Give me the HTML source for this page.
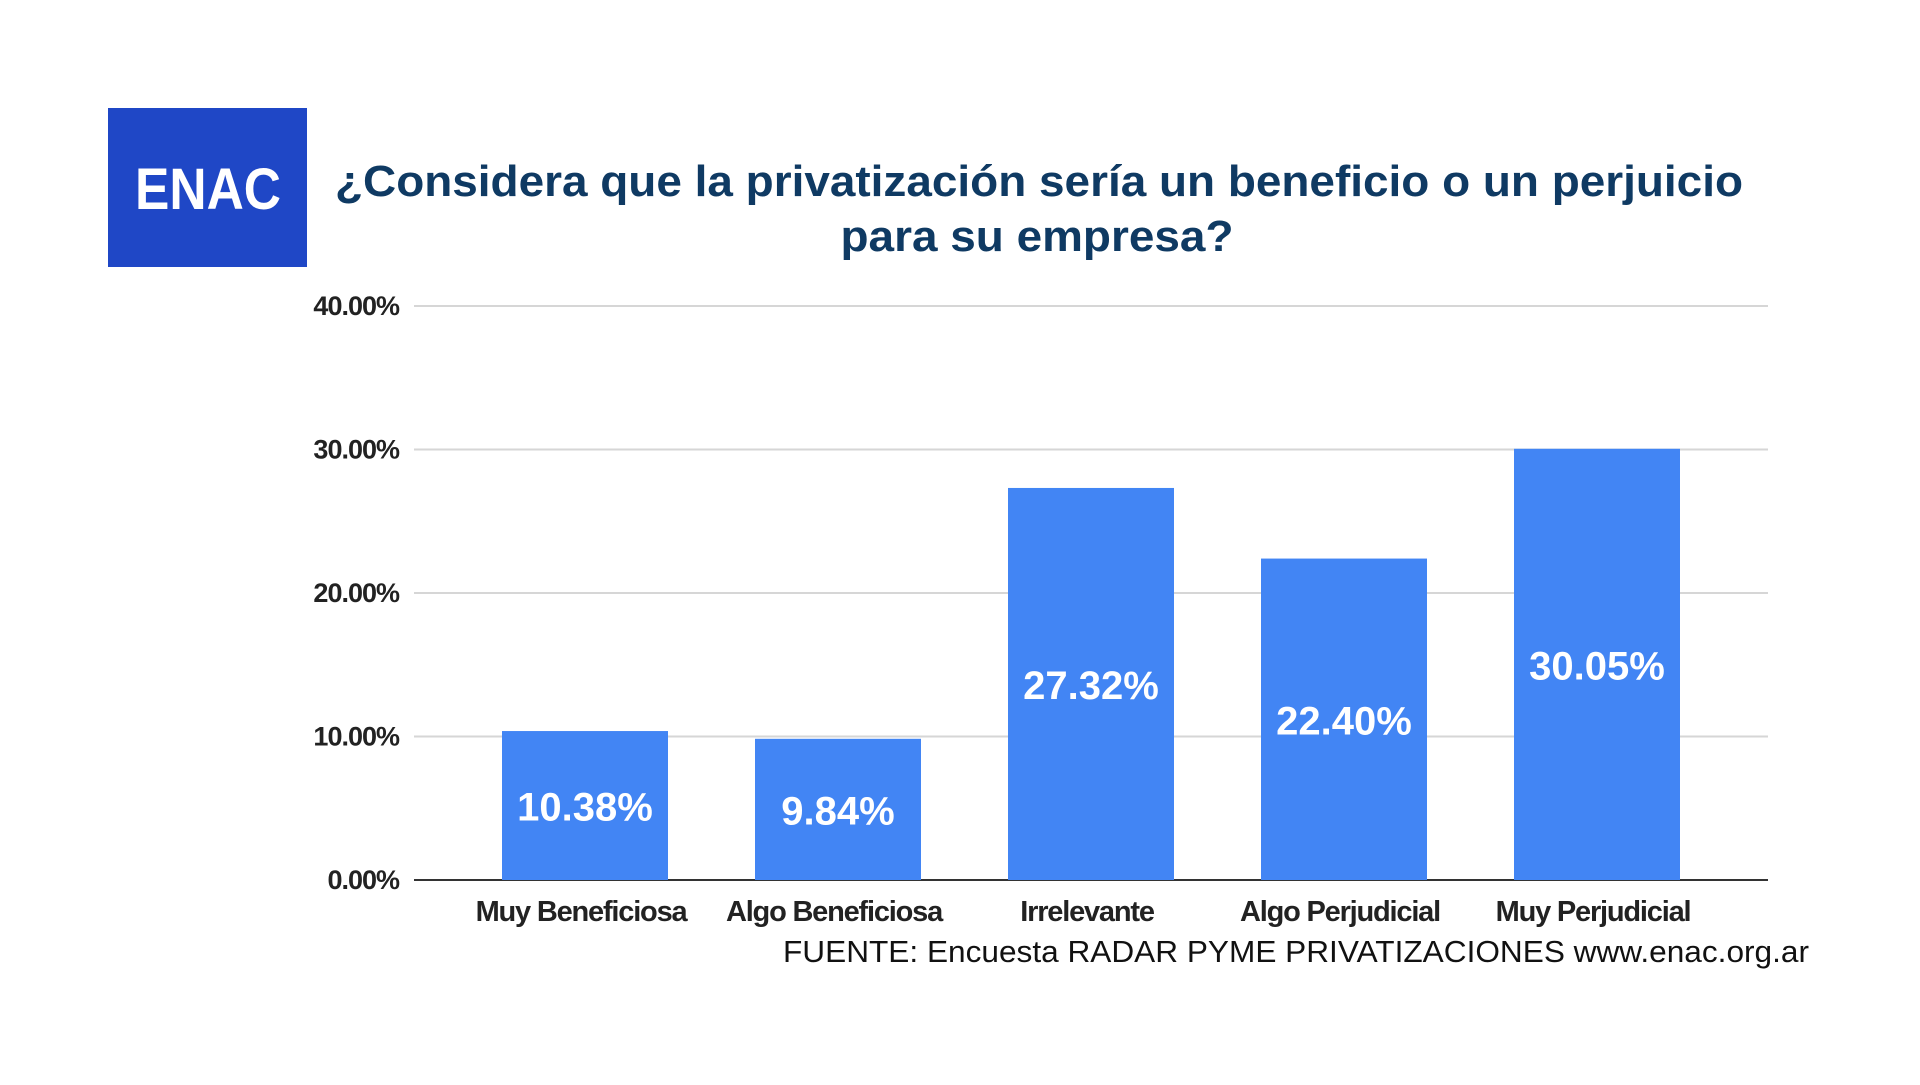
<!DOCTYPE html>
<html><head><meta charset="utf-8"><style>
body{margin:0;width:1920px;height:1080px;background:#fff;overflow:hidden;font-family:"Liberation Sans",sans-serif}
</style></head><body>
<svg width="1920" height="1080">
<rect x="108" y="108" width="199" height="159" fill="#1f47c6"/>
<text x="208" y="209" text-anchor="middle" font-size="58" font-weight="bold" fill="#fff" textLength="146" lengthAdjust="spacingAndGlyphs">ENAC</text>
<text x="1039" y="196" text-anchor="middle" font-size="44" font-weight="bold" fill="#0f3a63" textLength="1408" lengthAdjust="spacingAndGlyphs">¿Considera que la privatización sería un beneficio o un perjuicio</text>
<text x="1037" y="251" text-anchor="middle" font-size="44" font-weight="bold" fill="#0f3a63" textLength="393" lengthAdjust="spacingAndGlyphs">para su empresa?</text>
<g id="grid"></g><g id="bars"></g>
<text x="1809" y="962" text-anchor="end" font-size="31" fill="#111" textLength="1026" lengthAdjust="spacingAndGlyphs">FUENTE: Encuesta RADAR PYME PRIVATIZACIONES www.enac.org.ar</text>
</svg>
<script>
const categories=["Muy Beneficiosa","Algo Beneficiosa","Irrelevante","Algo Perjudicial","Muy Perjudicial"];
const values=[10.38,9.84,27.32,22.40,30.05];
const valueLabels=["10.38%","9.84%","27.32%","22.40%","30.05%"];
const ticks=[0,10,20,30,40];
const tickLabels=["0.00%","10.00%","20.00%","30.00%","40.00%"];
const NS="http://www.w3.org/2000/svg";
const y=v=>880-v*14.35;
const x=i=>585+253*i;
function mk(t,a,p){const e=document.createElementNS(NS,t);for(const k in a)e.setAttribute(k,a[k]);p.appendChild(e);return e;}
const g=document.getElementById('grid'),b=document.getElementById('bars');
ticks.forEach((t,i)=>{
 const l=mk('line',{x1:414,x2:1768,y1:y(t),y2:y(t),stroke:t===0?'#333':'#d6d6d6','stroke-width':2},g);
 
 
 const tx=mk('text',{x:399,y:y(t)+9,'text-anchor':'end','font-size':27,'font-weight':'bold',fill:'#222','letter-spacing':-1},g);
 tx.textContent=tickLabels[i];
 
 
});
values.forEach((v,i)=>{
 const r=mk('rect',{x:x(i)-83,y:y(v),width:166,height:y(0)-y(v),fill:'#4285f4'},b);
 
 
 const t=mk('text',{x:x(i),y:(y(v)+y(0))/2+15,'text-anchor':'middle','font-size':40,'font-weight':'bold',fill:'#fff'},b);
 t.textContent=valueLabels[i];
 
 
 const c=mk('text',{x:x(i)-4,y:921,'text-anchor':'middle','font-size':29,'font-weight':'bold',fill:'#222','letter-spacing':-1.2},b);
 c.textContent=categories[i];
 
 
});
</script>
</body></html>
